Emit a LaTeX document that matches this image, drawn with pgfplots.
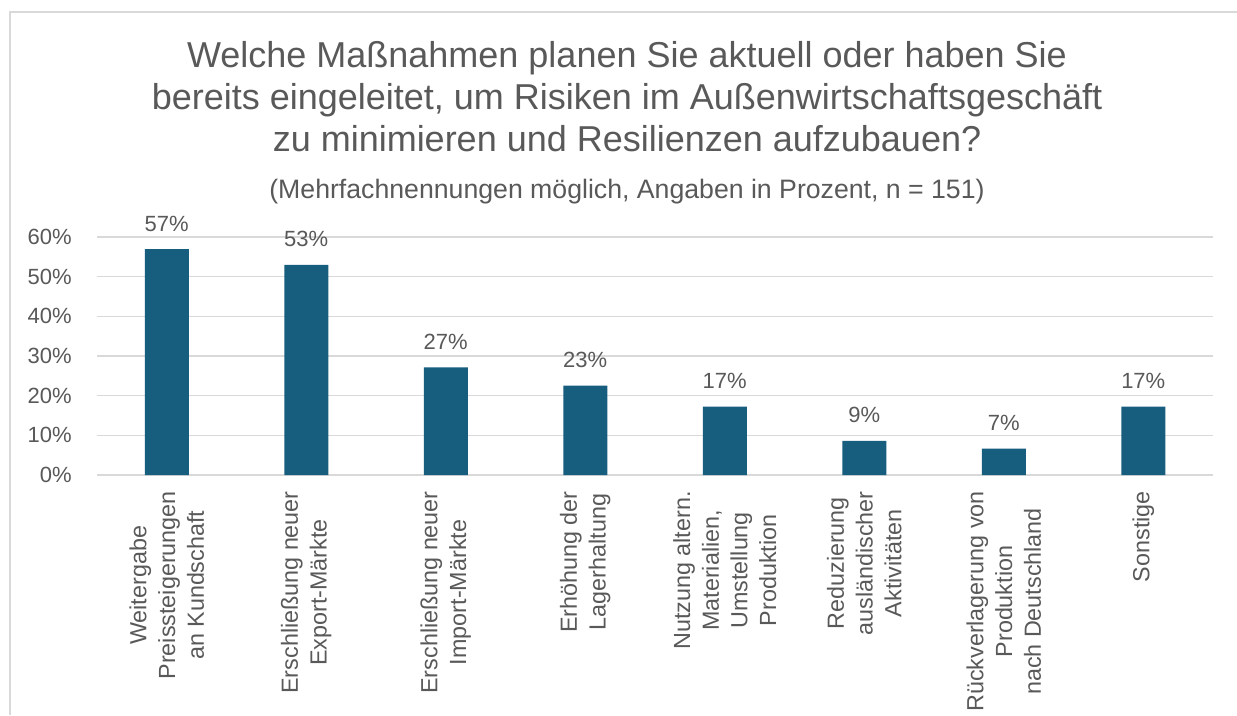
\documentclass[border=0pt]{standalone}
\usepackage{fontspec}
\setmainfont{Liberation Sans}
\usepackage{pgfplots}
\pgfplotsset{compat=1.18}
\definecolor{barc}{HTML}{175E7E}
\definecolor{txt}{HTML}{595959}
\definecolor{gridc}{HTML}{D9D9D9}
\begin{document}
\begin{tikzpicture}[x=0.75pt,y=0.75pt]
\useasboundingbox (0,0) rectangle (1237,715);
\fill[white] (0,0) rectangle (1237,715);
\draw[gridc, line width=1.1pt] (10,0) -- (10,703) -- (1237,703);
\node[anchor=base, text=txt, font=\fontsize{27}{32}\selectfont, inner sep=0] at (627,647) {Welche Maßnahmen planen Sie aktuell oder haben Sie};
\node[anchor=base, text=txt, font=\fontsize{27}{32}\selectfont, inner sep=0] at (627,605) {bereits eingeleitet, um Risiken im Außenwirtschaftsgeschäft};
\node[anchor=base, text=txt, font=\fontsize{27}{32}\selectfont, inner sep=0] at (627,563) {zu minimieren und Resilienzen aufzubauen?};
\node[anchor=base, text=txt, font=\fontsize{20}{24}\selectfont, inner sep=0] at (627,516) {(Mehrfachnennungen möglich, Angaben in Prozent, n = 151)};
\begin{axis}[
  at={(72.75pt,180pt)}, anchor=south west,
  scale only axis, width=837pt, height=178.5pt,
  xmin=-0.5, xmax=7.5, ymin=0, ymax=60,
  ybar, bar width=33pt,
  axis line style={draw=none},
  major tick length=0pt,
  ymajorgrids, grid style={gridc, line width=1.1pt},
  ytick={0,10,20,30,40,50,60},
  /pgf/number format/assume math mode=true,
  yticklabel={\pgfmathprintnumber{\tick}\%},
  yticklabel style={text=txt, font=\fontsize{16.5}{19}\selectfont, inner sep=0pt, xshift=-18.75pt},
  xtick={0,1,2,3,4,5,6,7},
  xticklabels={{Weitergabe\\Preissteigerungen\\an Kundschaft},
               {Erschließung neuer\\Export-Märkte},
               {Erschließung neuer\\Import-Märkte},
               {Erhöhung der\\Lagerhaltung},
               {Nutzung altern.\\Materialien,\\Umstellung\\Produktion},
               {Reduzierung\\ausländischer\\Aktivitäten},
               {Rückverlagerung von\\Produktion\\nach Deutschland},
               {Sonstige}},
  xticklabel style={rotate=90, anchor=east, align=center, text=txt, font=\fontsize{17.5}{21.5}\selectfont, inner ysep=0pt, inner xsep=12pt},
  nodes near coords={\pgfmathprintnumber[fixed,precision=0]{\pgfplotspointmeta}\%},
  nodes near coords style={text=txt, font=\fontsize{16.5}{19}\selectfont, anchor=base, inner sep=0pt, yshift=13.5pt},
  clip=false,
]
\addplot[fill=barc, draw=none] coordinates {
(0,56.95) (1,52.98) (2,27.15) (3,22.52) (4,17.22) (5,8.61) (6,6.62) (7,17.22)};
\end{axis}
\end{tikzpicture}
\end{document}
